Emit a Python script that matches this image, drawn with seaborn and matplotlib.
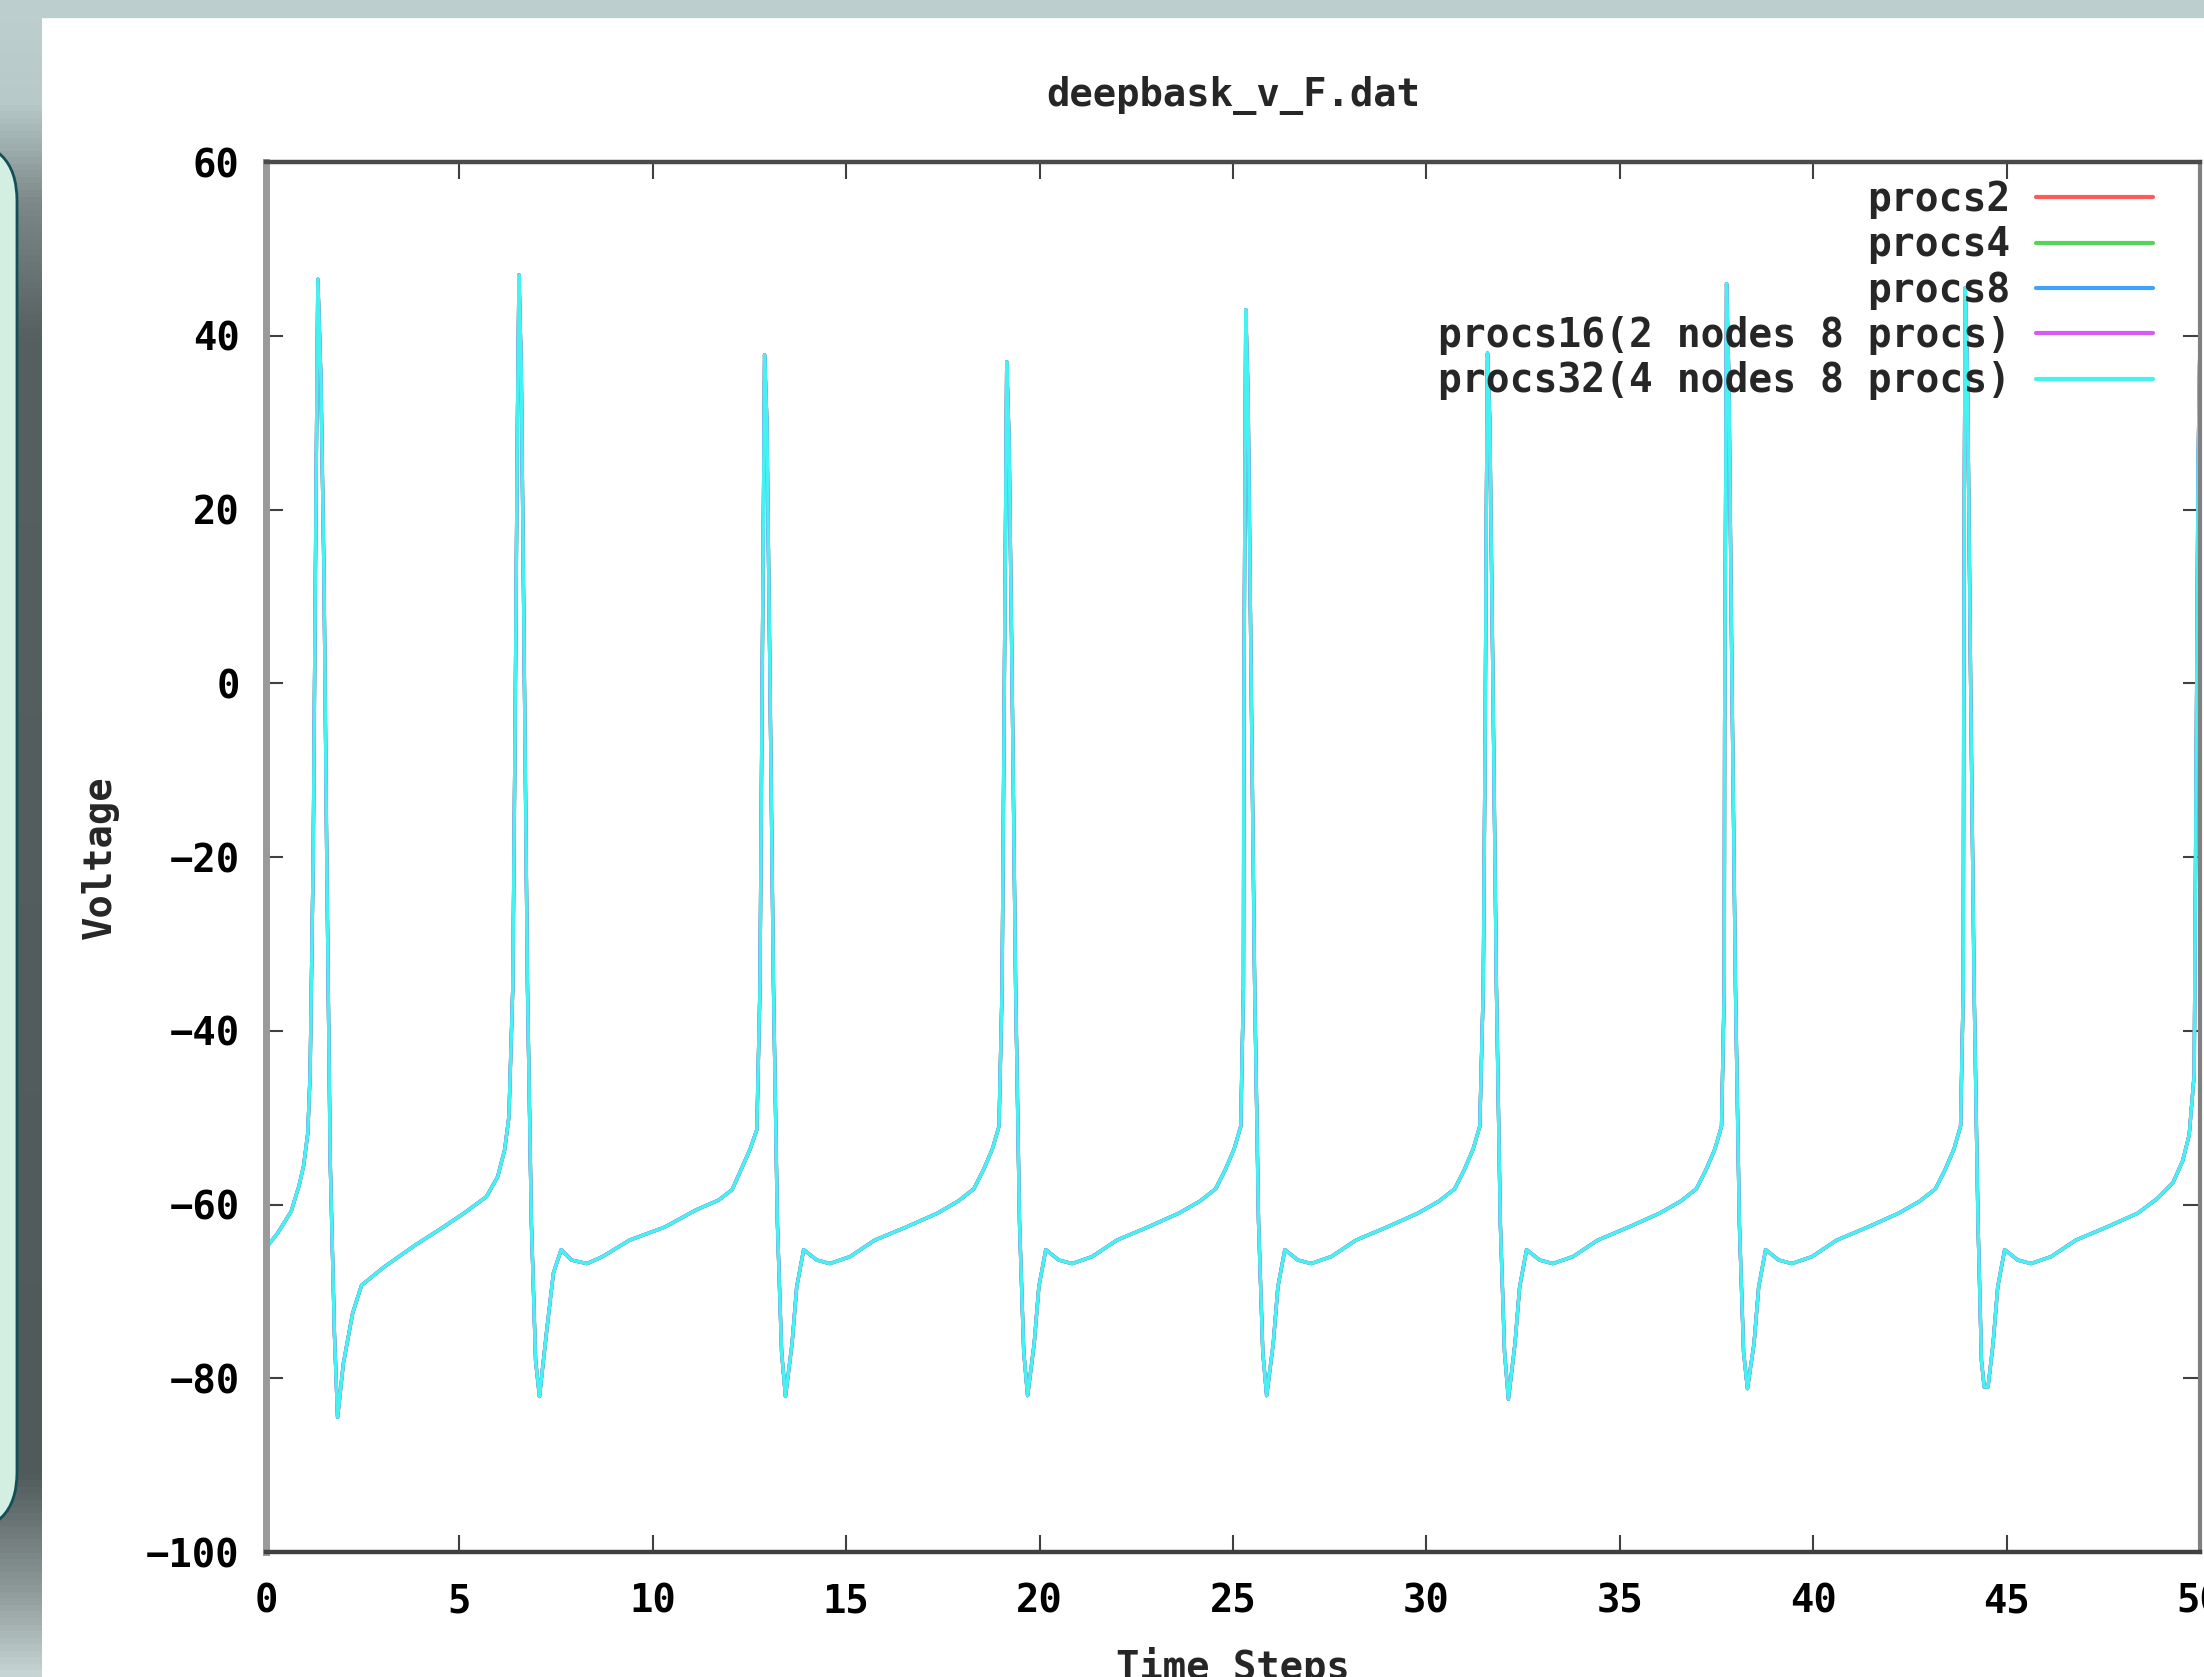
import numpy as np
import pandas as pd
import matplotlib
matplotlib.use("Agg")
import matplotlib.pyplot as plt
import seaborn as sns
from matplotlib.patches import Rectangle, FancyBboxPatch
from matplotlib.colors import LinearSegmentedColormap
from matplotlib.lines import Line2D
from matplotlib.transforms import IdentityTransform

# values (all five runs give the same voltage trace)
time_steps = [
    0.0, 0.3, 0.65, 0.85, 0.97, 1.08, 1.14, 1.22, 1.29, 1.34, 1.42, 1.5, 1.57, 1.66, 1.77, 1.85,
    2.0, 2.24, 2.47, 3.05, 3.85, 4.55, 5.12, 5.7, 5.99, 6.17, 6.28, 6.38,
    6.44, 6.5, 6.54, 6.6, 6.68, 6.76, 6.86, 6.97, 7.07, 7.26, 7.43, 7.63, 7.9, 8.3, 8.7, 9.4,
    10.31, 11.13, 11.7, 12.05, 12.28, 12.51, 12.69, 12.77,
    12.82, 12.86, 12.89, 12.95, 13.03, 13.12, 13.22, 13.33, 13.43, 13.6, 13.72, 13.9, 14.24, 14.58,
    15.1, 15.74, 16.55, 17.36, 17.9, 18.3, 18.55, 18.78, 18.95, 19.03,
    19.08, 19.12, 19.15, 19.21, 19.29, 19.38, 19.48, 19.59, 19.69, 19.86, 19.98, 20.16, 20.5, 20.84,
    21.36, 22.0, 22.8, 23.6, 24.15, 24.55, 24.8, 25.03, 25.2, 25.27,
    25.28, 25.31, 25.33, 25.39, 25.47, 25.56, 25.66, 25.77, 25.87, 26.04, 26.16, 26.34, 26.68, 27.02,
    27.54, 28.18, 28.98, 29.78, 30.33, 30.73, 30.98, 31.21, 31.38, 31.47,
    31.52, 31.55, 31.58, 31.64, 31.72, 31.81, 31.91, 32.02, 32.12, 32.29, 32.41, 32.59, 32.93, 33.27,
    33.79, 34.43, 35.23, 36.03, 36.58, 36.98, 37.23, 37.46, 37.63, 37.7,
    37.71, 37.74, 37.76, 37.82, 37.9, 37.99, 38.09, 38.2, 38.3, 38.47, 38.59, 38.77, 39.11, 39.45,
    39.97, 40.61, 41.41, 42.21, 42.76, 43.16, 43.41, 43.64, 43.81, 43.88,
    43.89, 43.91, 43.93, 43.99, 44.07, 44.16, 44.26, 44.35, 44.42, 44.52, 44.65, 44.77, 44.95, 45.29,
    45.63, 46.15, 46.79, 47.59, 48.39, 48.9, 49.3, 49.55, 49.72, 49.85, 49.9, 49.95, 50.0,
]
voltage = [
    -65.0, -63.3, -60.8, -57.9, -55.6, -51.8, -45.0, -20.0, 20.0, 46.5, 35.0, 12.0, -20.0, -55.0, -75.0, -84.5,
    -78.3, -72.5, -69.3, -67.2, -64.7, -62.7, -61.0, -59.1, -56.8, -53.7, -49.9, -35.0,
    -5.0, 30.0, 47.0, 36.0, 0.0, -35.0, -62.0, -78.0, -82.1, -74.4, -67.9, -65.2, -66.4, -66.8, -66.0, -64.1,
    -62.6, -60.6, -59.5, -58.3, -56.0, -53.7, -51.4, -35.0,
    -5.0, 20.0, 37.8, 30.0, 0.0, -35.0, -62.0, -77.0, -82.1, -76.0, -69.5, -65.2, -66.4, -66.8,
    -66.0, -64.1, -62.6, -61.0, -59.6, -58.2, -56.0, -53.6, -51.0, -35.0,
    -5.0, 20.0, 37.0, 28.0, 0.0, -35.0, -62.0, -77.0, -82.0, -76.0, -69.5, -65.2, -66.4, -66.8,
    -66.0, -64.1, -62.6, -61.0, -59.6, -58.2, -56.0, -53.6, -51.0, -35.0,
    -5.0, 25.0, 43.0, 33.0, 0.0, -35.0, -62.0, -77.0, -82.0, -76.0, -69.5, -65.2, -66.4, -66.8,
    -66.0, -64.1, -62.6, -61.0, -59.6, -58.2, -56.0, -53.6, -51.0, -35.0,
    -5.0, 20.0, 38.0, 30.0, 0.0, -35.0, -62.0, -77.0, -82.4, -76.0, -69.5, -65.2, -66.4, -66.8,
    -66.0, -64.1, -62.6, -61.0, -59.6, -58.2, -56.0, -53.6, -51.0, -35.0,
    -5.0, 25.0, 46.0, 35.0, 0.0, -35.0, -62.0, -77.0, -81.2, -76.0, -69.5, -65.2, -66.4, -66.8,
    -66.0, -64.1, -62.6, -61.0, -59.6, -58.2, -56.0, -53.6, -51.0, -35.0,
    -5.0, 25.0, 45.5, 35.0, 0.0, -35.0, -62.0, -78.0, -81.0, -81.0, -76.0, -69.5, -65.2, -66.4,
    -66.8, -66.0, -64.1, -62.6, -61.0, -59.3, -57.5, -55.0, -52.0, -45.0, -10.0, 25.0, 40.0,
]

series_names = ["procs2", "procs4", "procs8",
                "procs16(2 nodes 8 procs)", "procs32(4 nodes 8 procs)"]
series_colors = ["#ff5a5a", "#55d455", "#3fa2ff", "#d85af5", "#44f2f2"]

x_ticks = [0, 5, 10, 15, 20, 25, 30, 35, 40, 45, 50]
y_ticks = [-100, -80, -60, -40, -20, 0, 20, 40, 60]

# long format table, one copy of the trace per run
df = pd.concat(
    [pd.DataFrame({"t": time_steps, "v": voltage, "run": name}) for name in series_names],
    ignore_index=True,
)

sns.set_style("ticks")
plt.rcParams["font.family"] = ["DejaVu Sans Mono", "DejaVu Sans"]
plt.rcParams["font.weight"] = "bold"

W, H = 2204, 1677
fig = plt.figure(figsize=(W / 100, H / 100), dpi=100)
fig.patch.set_facecolor("white")

# slide background bits around the plot
fig.add_artist(Rectangle((0, 1 - 17 / H), 1, 17 / H, transform=fig.transFigure,
                         color="#bccece", zorder=5))
strip = fig.add_axes([0, 0, 42 / W, 1])
cmap = LinearSegmentedColormap.from_list("strip", [
    (0.0, "#bfcfcf"), (0.06, "#b7c9c9"), (0.12, "#7c8888"), (0.2, "#566060"),
    (0.88, "#505a5a"), (0.95, "#8e9999"), (1.0, "#c6d4d4")])
strip.imshow(np.linspace(0, 1, 256).reshape(-1, 1), aspect="auto", cmap=cmap,
             extent=[0, 1, 0, 1])
strip.axis("off")
fig.add_artist(FancyBboxPatch((-80, H - 1532), 97, 1532 - 141,
                              boxstyle="round,pad=0,rounding_size=60",
                              transform=IdentityTransform(),
                              facecolor="#d2efe2", edgecolor="#134f57", lw=2, zorder=6))

ax = fig.add_axes([266 / W, 1 - 1552 / H, (2200 - 266) / W, 1390 / H])
sns.lineplot(data=df, x="t", y="v", hue="run", hue_order=series_names,
             palette=series_colors, estimator=None, sort=False, lw=2.4,
             legend=False, ax=ax)

ax.set_xlim(0, 50)
ax.set_ylim(-100, 60)
ax.set_xticks(x_ticks)
ax.set_yticks(y_ticks)
ax.tick_params(direction="in", length=12, width=1.5, color="#404040",
               top=True, right=True, labelsize=28, labelcolor="black")
ax.tick_params(axis="x", pad=22)
ax.tick_params(axis="y", pad=19)
for lab in ax.get_xticklabels() + ax.get_yticklabels():
    lab.set_fontweight("bold")

ax.spines["top"].set_color("#4a4a4a")
ax.spines["bottom"].set_color("#404040")
ax.spines["top"].set_linewidth(3.2)
ax.spines["bottom"].set_linewidth(3.2)
ax.spines["left"].set_color("#9a9a9a")
ax.spines["left"].set_linewidth(5)
ax.spines["right"].set_color("#808080")
ax.spines["right"].set_linewidth(3)

ax.set_title("deepbask_v_F.dat", fontsize=28, fontweight="bold", pad=40)
ax.set_xlabel("Time Steps", fontsize=28, fontweight="bold")
ax.set_ylabel("Voltage", fontsize=28, fontweight="bold")
ax.xaxis.set_label_coords(0.5, -0.068)
ax.yaxis.set_label_coords(-0.076, 0.5)

handles = [Line2D([], [], color=c, lw=3) for c in series_colors]
ax.legend(handles, series_names, loc="upper right", bbox_to_anchor=(0.9757, 0.987),
          frameon=False, markerfirst=False, handlelength=2.96,
          handletextpad=0.64, labelspacing=0.16, borderpad=0, borderaxespad=0,
          prop={"weight": "bold", "size": 28.5})

fig.savefig("out.png", dpi=100)
